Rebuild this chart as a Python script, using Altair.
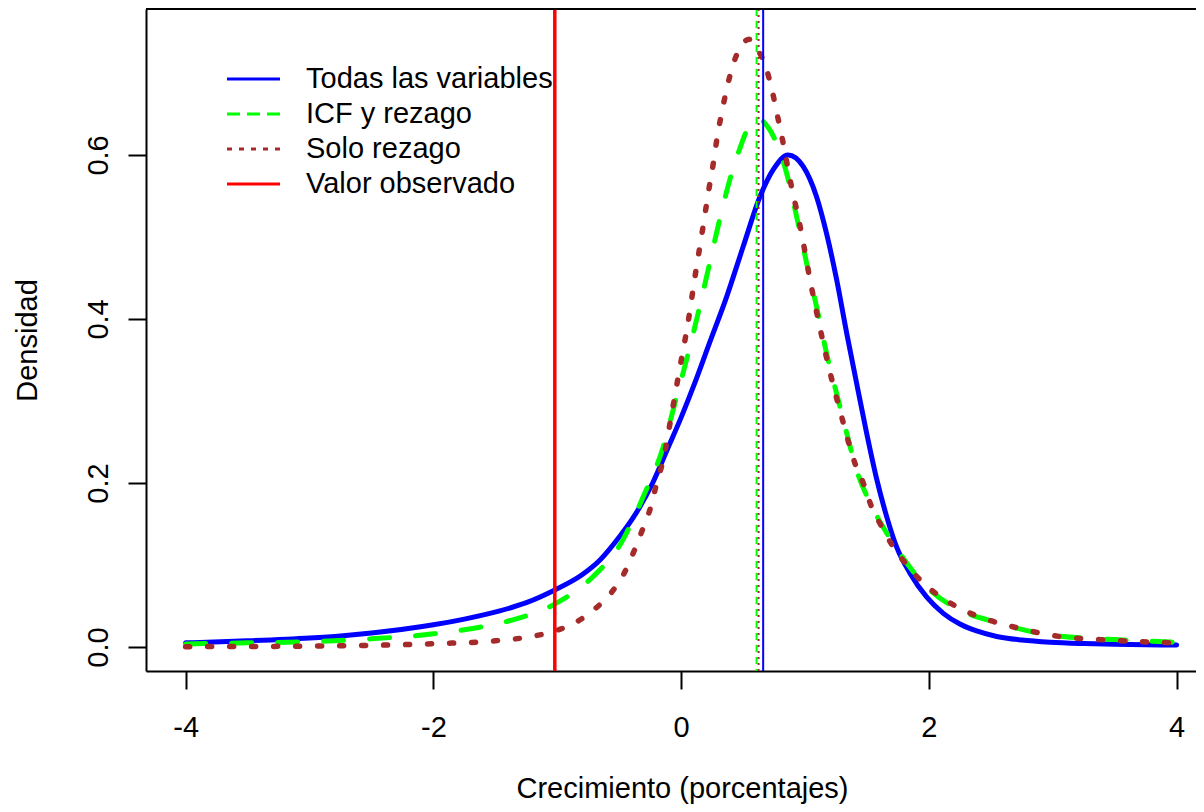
import altair as alt
import pandas as pd

FONT = "Liberation Sans"
FS = 29

series_names = ["Todas las variables", "ICF y rezago", "Solo rezago", "Valor observado"]
series_colors = ["#0000FF", "#00FF00", "#A52A2A", "#FF0000"]
legend_dashes = [[1, 0], [13, 7], [5, 7], [1, 0]]

todas_x = [-4.0, -3.5, -3.0, -2.75, -2.5, -2.0, -1.75, -1.464, -1.25, -1.02, -0.8, -0.655, -0.5,
           -0.39, -0.23, -0.1, 0.0, 0.1, 0.232, 0.367, 0.5, 0.636, 0.743, 0.864, 0.985, 1.093,
           1.174, 1.255, 1.336, 1.416, 1.497, 1.578, 1.659, 1.739, 1.847, 1.981, 2.116, 2.25,
           2.385, 2.547, 2.75, 2.98, 3.25, 3.5, 4.0]
todas_y = [0.005, 0.0075, 0.011, 0.0135, 0.017, 0.027, 0.034, 0.044, 0.054, 0.0695, 0.088, 0.106,
           0.134, 0.157, 0.200, 0.245, 0.28, 0.318, 0.372, 0.427, 0.488, 0.549, 0.582, 0.600,
           0.586, 0.549, 0.504, 0.448, 0.383, 0.322, 0.261, 0.205, 0.159, 0.122, 0.090, 0.061,
           0.041, 0.028, 0.0195, 0.0128, 0.0085, 0.0058, 0.0042, 0.0033, 0.0024]

icf_x = [-4.0, -3.5, -3.0, -2.5, -2.0, -1.75, -1.5, -1.36, -1.0, -0.71, -0.48, -0.31, -0.145,
         -0.051, 0.043, 0.137, 0.218, 0.312, 0.393, 0.474, 0.54, 0.6, 0.65, 0.70, 0.76, 0.851,
         0.932, 1.013, 1.093, 1.174, 1.255, 1.336, 1.416, 1.524, 1.659, 1.766, 1.981, 2.25, 2.52,
         2.98, 3.5, 4.0]
icf_y = [0.0037, 0.005, 0.0065, 0.010, 0.016, 0.021, 0.028, 0.033, 0.054, 0.086, 0.128, 0.182,
         0.244, 0.297, 0.35, 0.407, 0.46, 0.522, 0.570, 0.608, 0.633, 0.643, 0.642, 0.634, 0.618,
         0.578, 0.525, 0.468, 0.415, 0.358, 0.309, 0.261, 0.216, 0.176, 0.139, 0.114, 0.0735,
         0.045, 0.031, 0.0146, 0.009, 0.0057]

solo_x = [-4.0, -3.5, -3.0, -2.5, -2.0, -1.5, -1.2, -1.02, -0.85, -0.7, -0.56, -0.46, -0.38,
          -0.31, -0.245, -0.197, -0.145, -0.078, -0.011, 0.057, 0.11, 0.173, 0.226, 0.265, 0.292,
          0.327, 0.367, 0.415, 0.488, 0.55, 0.62, 0.69, 0.738, 0.78, 0.824, 0.891, 0.932, 0.972,
          1.04, 1.115, 1.2, 1.295, 1.403, 1.47, 1.537, 1.618, 1.712, 1.833, 1.954, 2.116, 2.277,
          2.44, 2.75, 3.0, 3.5, 4.0]
solo_y = [0.0004, 0.0006, 0.001, 0.002, 0.004, 0.0075, 0.013, 0.0195, 0.030, 0.046, 0.067, 0.09,
          0.117, 0.144, 0.171, 0.2, 0.228, 0.283, 0.340, 0.397, 0.45, 0.509, 0.56, 0.595, 0.623,
          0.651, 0.680, 0.708, 0.734, 0.741, 0.728, 0.704, 0.676, 0.646, 0.614, 0.561, 0.533,
          0.504, 0.448, 0.393, 0.336, 0.281, 0.224, 0.2, 0.171, 0.147, 0.122, 0.098, 0.078, 0.059,
          0.045, 0.035, 0.022, 0.014, 0.008, 0.005]

valor_observado = [-1.02]
centro_names = ["Todas las variables", "ICF y rezago", "Solo rezago"]
centro_values = [0.662, 0.609, 0.625]

x_ticks = [-4, -2, 0, 2, 4]
y_ticks = [0.0, 0.2, 0.4, 0.6]
x_domain = [-4.32, 4.156]
y_domain = [-0.0293, 0.778]


def frame(name, xs, ys):
    return pd.DataFrame({"serie": name, "x": xs, "y": ys})


df_todas = frame(series_names[0], todas_x, todas_y)
df_icf = frame(series_names[1], icf_x, icf_y)
df_solo = frame(series_names[2], solo_x, solo_y)
df_obs = pd.DataFrame({"serie": series_names[3], "x": valor_observado})
df_centro = pd.DataFrame({"serie": centro_names, "x": centro_values})
df_top = pd.DataFrame({"y": [y_domain[1]]})

xs = alt.Scale(domain=x_domain, nice=False, zero=False)
ys = alt.Scale(domain=y_domain, nice=False, zero=False)
color_scale = alt.Scale(domain=series_names, range=series_colors)
dash_scale = alt.Scale(domain=series_names, range=legend_dashes)

legend = alt.Legend(
    orient="none", legendX=93, legendY=55.5, title=None, padding=0,
    symbolType="M-4,0H4", symbolSize=175.6, symbolStrokeWidth=3,
    labelFont=FONT, labelFontSize=FS, labelColor="black", labelLimit=600,
    labelOffset=38, rowPadding=5,
)

x_axis = alt.Axis(
    orient="bottom", values=x_ticks, labelExpr="datum.value", grid=False,
    tickSize=18, tickWidth=2, tickColor="black", domainColor="black", domainWidth=2,
    labelFont=FONT, labelFontSize=FS, labelColor="black", labelPadding=24,
    labelBaseline="top", labelAlign="center", labelFlush=False, labelOverlap=False,
    title="Crecimiento (porcentajes)", titleFont=FONT, titleFontSize=FS,
    titleFontWeight="normal", titleColor="black", titleX=536, titleY=126,
    titleAlign="center", titleBaseline="alphabetic",
)
y_axis = alt.Axis(
    orient="left", values=y_ticks, labelExpr="format(datum.value, '.1f')", grid=False,
    tickSize=18, tickWidth=2, tickColor="black", domainColor="black", domainWidth=2,
    labelFont=FONT, labelFontSize=FS, labelColor="black", labelAngle=270,
    labelAlign="center", labelBaseline="bottom", labelPadding=15, labelOverlap=False,
    labelFlush=False,
    title="Densidad", titleFont=FONT, titleFontSize=FS, titleFontWeight="normal",
    titleColor="black", titleAngle=270, titleX=-119, titleY=331, titleAlign="center",
    titleBaseline="middle",
)

X = alt.X("x:Q", scale=xs, axis=x_axis)
Y = alt.Y("y:Q", scale=ys, axis=y_axis)

blue = alt.Chart(df_todas).mark_line(
    strokeWidth=5, interpolate="monotone", strokeCap="round", color=series_colors[0]
).encode(x=X, y=Y)
green = alt.Chart(df_icf).mark_line(
    strokeWidth=5, interpolate="monotone", strokeDash=[20, 26], strokeCap="round",
    color=series_colors[1]
).encode(x=X, y=Y)
brown = alt.Chart(df_solo).mark_line(
    strokeWidth=5.5, interpolate="monotone", strokeDash=[4, 18], strokeCap="round",
    color=series_colors[2]
).encode(x=X, y=Y)
red = alt.Chart(df_obs).mark_rule(strokeWidth=3.5).encode(
    x=X,
    color=alt.Color("serie:N", scale=color_scale, legend=legend),
    strokeDash=alt.StrokeDash("serie:N", scale=dash_scale, legend=legend),
)
c_blue = alt.Chart(df_centro[df_centro.serie == centro_names[0]]).mark_rule(
    strokeWidth=2, color=series_colors[0]).encode(x=X)
c_green = alt.Chart(df_centro[df_centro.serie == centro_names[1]]).mark_rule(
    strokeWidth=2, color=series_colors[1], strokeDash=[7, 5]).encode(x=X)
c_brown = alt.Chart(df_centro[df_centro.serie == centro_names[2]]).mark_rule(
    strokeWidth=2, color=series_colors[2], strokeDash=[2, 4]).encode(x=X)
top_border = alt.Chart(df_top).mark_rule(color="black", strokeWidth=2).encode(y=Y)

chart = alt.layer(blue, green, brown, red, c_blue, c_green, c_brown, top_border).properties(
    width=1050, height=662,
    padding={"left": 138, "top": 1, "right": 0, "bottom": 133},
    autosize=alt.AutoSizeParams(type="none"),
    background="white",
).configure_view(stroke=None)

chart.save("out.html", embed_options={"renderer": "svg", "actions": False})
